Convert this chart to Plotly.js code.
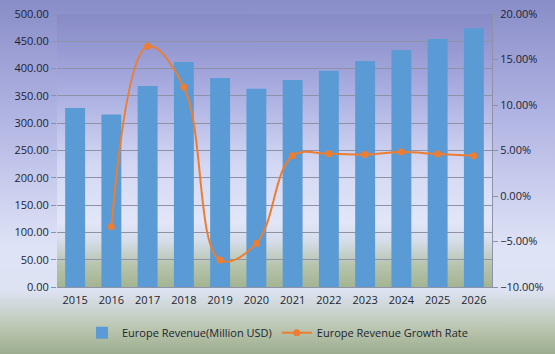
<!DOCTYPE html>
<html>
<head>
<meta charset="utf-8">
<script src="https://cdn.plot.ly/plotly-3.0.1.min.js"></script>
<style>
  html, body { margin: 0; padding: 0; }
  #wrap { position: relative; width: 555px; height: 354px;
    background: linear-gradient(to bottom, #898dc8 0%, #b3b7e4 35%, #dfe3f6 70%, #dde3f3 82%, #b9c5ae 93%, #9cad8f 100%); }
  #plotbg { position: absolute; left: 57px; top: 14px; width: 435px; height: 273px;
    background: linear-gradient(to bottom, #878ac6 0%, #a9ade0 28%, #d3d7f3 55%, #e2e6f8 76%, #d6ddea 83%, #b7c4ad 92%, #a3b491 100%); }
  #chart { position: absolute; left: 0; top: 0; width: 555px; height: 354px; }
</style>
</head>
<body>
<div id="wrap">
  <div id="plotbg"></div>
  <div id="chart"></div>
</div>
<script>
const years = ["2015","2016","2017","2018","2019","2020","2021","2022","2023","2024","2025","2026"];
const revenue = [328, 316, 368, 412, 383, 363, 379, 396, 414, 434, 454, 474];
const growth = [null, -0.0337, 0.1646, 0.1196, -0.0704, -0.0522, 0.0441, 0.0465, 0.0455, 0.0483, 0.0461, 0.0441];
const leftTicks = [0, 50, 100, 150, 200, 250, 300, 350, 400, 450, 500];
const rightTicks = [-0.10, -0.05, 0, 0.05, 0.10, 0.15, 0.20];

const font = { family: "Open Sans, Noto Sans, sans-serif", size: 11, color: "#1c1f30" };

const traces = [
  { type: "bar", x: years, y: revenue, name: "Europe Revenue(Million USD)",
    marker: { color: "#5b9bd5" }, yaxis: "y" },
  { type: "scatter", mode: "lines+markers", x: years, y: growth, yaxis: "y2",
    name: "Europe Revenue Growth Rate",
    line: { color: "#ed7d31", width: 2, shape: "spline", smoothing: 1.1 },
    marker: { color: "#ed7d31", size: 7 } }
];

const layout = {
  width: 555, height: 354,
  margin: { l: 57, r: 63, t: 14, b: 67, autoexpand: false },
  paper_bgcolor: "rgba(0,0,0,0)", plot_bgcolor: "rgba(0,0,0,0)",
  font: font,
  bargap: 0.45,
  showlegend: true,
  legend: { orientation: "h", x: 0.5, xanchor: "center", xref: "container",
    y: 0.06, yanchor: "middle", yref: "container",
    font: font, bgcolor: "rgba(0,0,0,0)", itemwidth: 30 },
  xaxis: { type: "category", range: [-0.5, 11.5], automargin: false, showgrid: false,
    showline: true, linecolor: "#8f93a8", ticks: "", tickfont: font, zeroline: false,
    ticklabelstandoff: 3 },
  yaxis: { range: [0, 500], automargin: false, tickvals: leftTicks, tickformat: ".2f",
    showgrid: true, gridcolor: "#8f92a6", gridwidth: 1, zeroline: false,
    showline: false, ticks: "outside", ticklen: 5, tickcolor: "#8f92a6", tickfont: font },
  yaxis2: { range: [-0.10, 0.20], automargin: false, tickvals: rightTicks, tickformat: ".2%",
    overlaying: "y", side: "right", showgrid: false, zeroline: false,
    showline: true, linecolor: "#8f92a6", ticks: "outside", ticklen: 5, tickcolor: "#8f92a6",
    tickfont: font }
};

Plotly.newPlot("chart", traces, layout, { displayModeBar: false, staticPlot: true });
</script>
</body>
</html>
